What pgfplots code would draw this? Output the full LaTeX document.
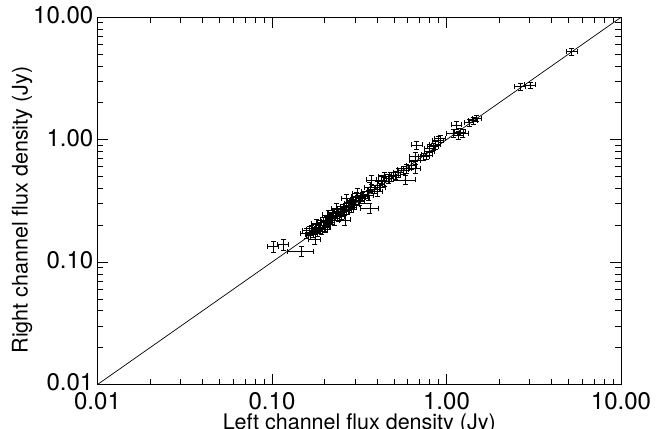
\documentclass[border=0pt]{standalone}
\usepackage{fontspec}
\setmainfont{TeX Gyre Heros}
\usepackage{pgfplots}
\pgfplotsset{compat=1.18}
\usepackage{pgfplotstable}

\pgfplotstableread{
x y ex ey
0.1017 0.1336 0.075 0.10
0.116 0.1397 0.07 0.10
0.148 0.123 0.17 0.10
0.158 0.172 0.08 0.09
0.163 0.181 0.08 0.09
0.166 0.168 0.07 0.09
0.169 0.183 0.07 0.09
0.172 0.175 0.08 0.09
0.176 0.154 0.08 0.10
0.176 0.190 0.07 0.09
0.180 0.205 0.07 0.09
0.182 0.178 0.07 0.09
0.185 0.193 0.08 0.09
0.187 0.189 0.07 0.09
0.190 0.200 0.07 0.09
0.193 0.184 0.07 0.09
0.196 0.212 0.07 0.09
0.199 0.198 0.07 0.09
0.202 0.192 0.07 0.09
0.204 0.218 0.07 0.09
0.206 0.214 0.07 0.09
0.210 0.243 0.07 0.09
0.212 0.205 0.07 0.09
0.216 0.226 0.07 0.09
0.220 0.232 0.07 0.09
0.224 0.250 0.07 0.09
0.227 0.218 0.07 0.09
0.230 0.240 0.07 0.09
0.235 0.275 0.07 0.09
0.238 0.252 0.07 0.09
0.242 0.236 0.07 0.09
0.246 0.262 0.07 0.09
0.250 0.248 0.07 0.09
0.255 0.272 0.07 0.09
0.258 0.258 0.07 0.09
0.262 0.221 0.07 0.09
0.266 0.285 0.07 0.09
0.268 0.330 0.07 0.09
0.272 0.268 0.07 0.09
0.276 0.292 0.07 0.09
0.280 0.302 0.07 0.09
0.285 0.280 0.07 0.09
0.290 0.312 0.07 0.09
0.295 0.298 0.07 0.09
0.300 0.318 0.07 0.09
0.305 0.342 0.07 0.09
0.310 0.365 0.07 0.09
0.316 0.322 0.07 0.09
0.322 0.335 0.07 0.09
0.330 0.342 0.07 0.09
0.338 0.330 0.07 0.09
0.350 0.376 0.07 0.09
0.358 0.352 0.07 0.09
0.364 0.410 0.07 0.09
0.364 0.275 0.12 0.09
0.372 0.470 0.07 0.08
0.385 0.395 0.07 0.08
0.400 0.427 0.07 0.08
0.400 0.376 0.07 0.08
0.415 0.410 0.07 0.08
0.425 0.470 0.07 0.08
0.440 0.500 0.07 0.08
0.440 0.454 0.07 0.08
0.465 0.480 0.07 0.08
0.480 0.500 0.07 0.08
0.507 0.515 0.07 0.08
0.530 0.540 0.07 0.08
0.565 0.566 0.07 0.08
0.580 0.470 0.14 0.08
0.590 0.580 0.07 0.08
0.630 0.620 0.07 0.08
0.660 0.580 0.07 0.08
0.660 0.680 0.07 0.08
0.660 0.730 0.07 0.08
0.675 0.906 0.07 0.07
0.740 0.730 0.07 0.07
0.770 0.750 0.07 0.07
0.800 0.800 0.07 0.07
0.800 0.850 0.07 0.07
0.840 0.880 0.07 0.07
0.860 0.906 0.07 0.07
0.897 0.990 0.07 0.07
0.920 1.020 0.07 0.07
1.090 1.130 0.09 0.07
1.140 1.320 0.07 0.07
1.170 1.090 0.07 0.07
1.195 1.160 0.07 0.07
1.240 1.130 0.07 0.07
1.350 1.380 0.06 0.06
1.420 1.430 0.06 0.06
1.490 1.500 0.06 0.06
2.640 2.710 0.07 0.06
3.010 2.800 0.07 0.06
5.220 5.240 0.07 0.06
}\fluxdata

\begin{document}
\begin{tikzpicture}
\begin{axis}[
  scale only axis,
  width=523.5pt, height=367.2pt,
  xmode=log, ymode=log,
  xmin=0.01, xmax=10, ymin=0.01, ymax=10,
  xtick={0.01,0.1,1,10}, xticklabels={0.01,0.10,1.00,10.00},
  ytick={0.01,0.1,1,10}, yticklabels={0.01,0.10,1.00,10.00},
  tick align=inside,
  xtick pos=both, ytick pos=both,
  xticklabel pos=lower, yticklabel pos=left,
  major tick length=11pt, minor tick length=6pt,
  tick style={black, line width=0.8pt},
  axis line style={black, line width=0.8pt},
  every tick label/.append style={font=\fontsize{24}{28}\selectfont},
  xticklabel style={anchor=base, inner sep=0pt, yshift=-25.5pt},
  yticklabel style={anchor=east, inner sep=0pt, xshift=-4pt, yshift=2pt},
  label style={font=\fontsize{21.5}{26}\selectfont},
  xlabel={Left channel flux density (Jy)},
  ylabel={Right channel flux density (Jy)},
  xlabel style={at={(axis description cs:0.5,-0.1235)}, anchor=base, inner sep=0pt},
  ylabel style={at={(axis description cs:-0.1442,0.475)}, anchor=center, inner sep=0pt},
]
\addplot[black, line width=0.7pt] coordinates {(0.01,0.01) (10,10)};
\addplot[black, only marks, mark=*, mark size=0.4pt,
  error bars/.cd, x dir=both, x explicit relative, y dir=both, y explicit relative,
  error mark options={rotate=90, black, mark size=2.5pt, line width=0.6pt},
  error bar style={black, line width=0.6pt}]
  table[x=x, y=y, x error=ex, y error=ey] {\fluxdata};
\coordinate (bl) at (rel axis cs:0,0);
\coordinate (tr) at (rel axis cs:1,1);
\end{axis}
\path (bl) ++(-97.5pt,-44.5pt) coordinate (A);
\path (tr) ++(42pt,17.3pt) coordinate (B);
\pgfresetboundingbox
\useasboundingbox (A) rectangle (B);
\end{tikzpicture}
\end{document}
